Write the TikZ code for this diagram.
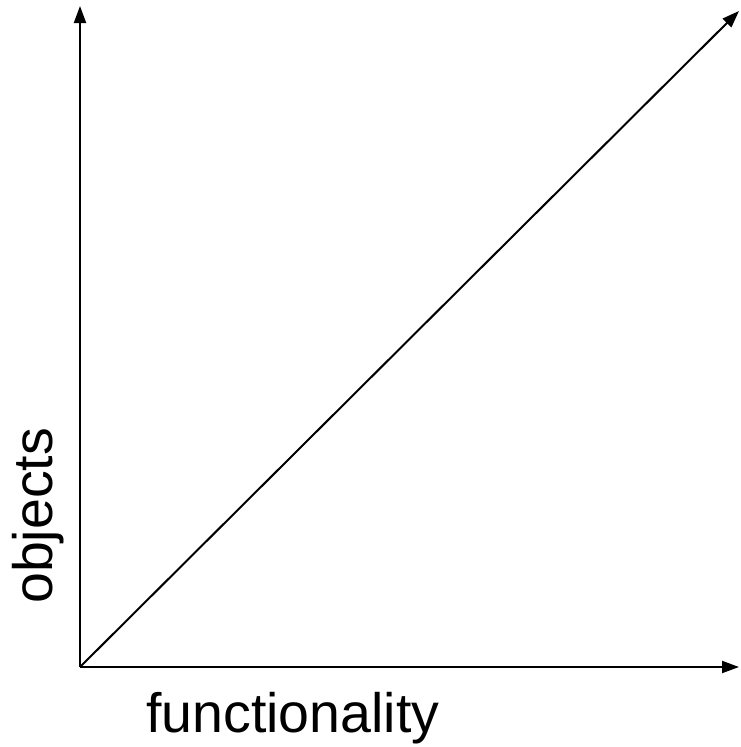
\documentclass[tikz,border=0pt]{standalone}
\usepackage{fontspec}
\setmainfont{Liberation Sans}
\usetikzlibrary{arrows.meta}
\begin{document}
\begin{tikzpicture}[x=1pt,y=-1pt,
  axis/.style={line width=2pt,-{Triangle[length=17pt,width=12pt]}},
  lbl/.style={inner sep=0pt,font=\fontsize{55.5}{60}\selectfont}]
\useasboundingbox (0,0) rectangle (740,747);
\coordinate (O) at (80,667);
\coordinate (Y) at (80,6);
\coordinate (X) at (739,667);
\coordinate (D) at (739,11);
\draw[axis] (O) -- (Y);
\draw[axis] (O) -- (X);
\draw[axis] (O) -- (D);
\node[lbl,anchor=base west] (fx) at (146,732) {functionality};
\node[lbl,anchor=base west,rotate=90] (ob) at (52,604) {objects};
\end{tikzpicture}
\end{document}
